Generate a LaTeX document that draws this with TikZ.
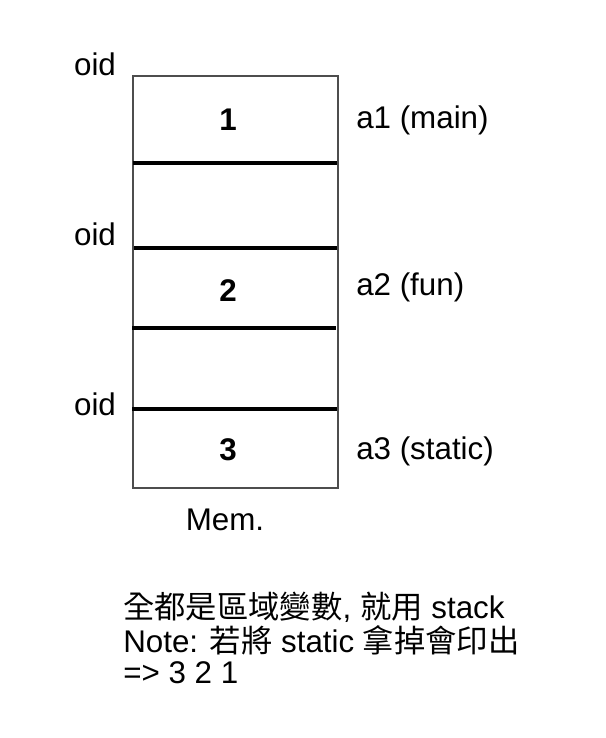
\documentclass[tikz,border=0pt]{standalone}
\usepackage{fontspec}
\setmainfont{Liberation Sans}
\newfontfamily\cjk{Noto Sans CJK TC}
\definecolor{boxgray}{HTML}{4D4D4D}
\begin{document}
\begin{tikzpicture}[x=0.75pt,y=-0.75pt,
  lbl/.style={font=\fontsize{23.5}{28}\selectfont, inner sep=0pt},
  num/.style={font=\fontsize{23.5}{28}\selectfont\bfseries, inner sep=0pt},
  sep/.style={line width=2.4pt, black},
  frame/.style={draw=boxgray, line width=1.2pt}]
\useasboundingbox (0,0) rectangle (606,738);
\node[frame, minimum width=205*0.75pt, minimum height=412*0.75pt, inner sep=0pt, anchor=north west] (mem) at (132,75) {};
\coordinate (l1a) at (133,163); \coordinate (l1b) at (337,163);
\coordinate (l2a) at (134,248); \coordinate (l2b) at (337,248);
\coordinate (l3a) at (132,328); \coordinate (l3b) at (336,328);
\coordinate (l4a) at (132,409); \coordinate (l4b) at (337,409);
\draw[sep] (l1a) -- (l1b);
\draw[sep] (l2a) -- (l2b);
\draw[sep] (l3a) -- (l3b);
\draw[sep] (l4a) -- (l4b);
\node[lbl] (o1) at (95,64) {oid};
\node[lbl] (o2) at (95,234) {oid};
\node[lbl] (o3) at (95,404) {oid};
\node[num] (n1) at (228,120) {1};
\node[num] (n2) at (228,291) {2};
\node[num] (n3) at (228,450) {3};
\node[lbl, anchor=west] (a1) at (356,120) {a1 (main)};
\node[lbl, anchor=west] (a2) at (356,287) {a2 (fun)};
\node[lbl, anchor=west] (a3) at (356,451) {a3 (static)};
\node[lbl] (m) at (225,520) {Mem.};
\node[lbl, anchor=west] (t1) at (123,607) {{\cjk 全都是區域變數}, {\cjk 就用} stack};
\node[lbl, anchor=west] (t2) at (123,640) {Note: {\cjk 若將} static {\cjk 拿掉會印出}};
\node[lbl, anchor=west] (t3) at (123,673) {=> 3 2 1};
\end{tikzpicture}
\end{document}
